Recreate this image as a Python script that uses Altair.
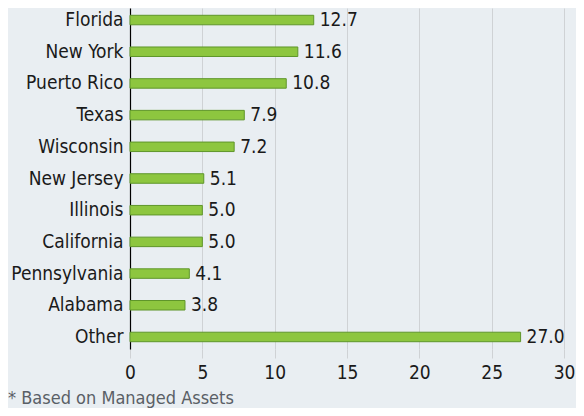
import altair as alt
import pandas as pd

states = ["Florida", "New York", "Puerto Rico", "Texas", "Wisconsin", "New Jersey",
          "Illinois", "California", "Pennsylvania", "Alabama", "Other"]
values = [12.7, 11.6, 10.8, 7.9, 7.2, 5.1, 5.0, 5.0, 4.1, 3.8, 27.0]
x_ticks = [0, 5, 10, 15, 20, 25, 30]
footnote = "* Based on Managed Assets"

df = pd.DataFrame({"state": states, "value": values})
df["label"] = [f"{v:.1f}" for v in values]

FONT = "Liberation Sans Narrow, Arial Narrow, DejaVu Sans Condensed, sans-serif"
FS = 19
BG = "#e9eef2"

x_enc = alt.X("value:Q",
              scale=alt.Scale(domain=[0, 30], nice=False, zero=True),
              axis=alt.Axis(values=x_ticks, title=None, domain=False,
                            grid=True, gridColor="#cfd2d5", gridWidth=1,
                            ticks=True, tickColor="#cfd2d5", tickSize=9,
                            labelFontSize=FS, labelColor="#1a1a1a", labelFont=FONT,
                            labelPadding=5, labelFlush=False))
y_enc = alt.Y("state:N", sort=states,
              scale=alt.Scale(paddingInner=0.7, paddingOuter=0.23),
              axis=alt.Axis(title=None, ticks=False, domain=True, domainColor="#000000",
                            domainWidth=1.2, labelFontSize=FS, labelColor="#1a1a1a",
                            labelFont=FONT, labelPadding=7, grid=False))

bars = alt.Chart(df).mark_bar(color="#8dc63f", stroke="#5f962a", strokeWidth=1).encode(
    x=x_enc, y=y_enc)

labels = alt.Chart(df).mark_text(align="left", baseline="middle", dx=6, dy=0,
                                 fontSize=FS, font=FONT, color="#1a1a1a").encode(
    x="value:Q", y=alt.Y("state:N", sort=states), text="label:N")

note = alt.Chart(pd.DataFrame({"t": [footnote]})).mark_text(
    align="left", baseline="middle", fontSize=18, font=FONT,
    color="#5a5f66").encode(x=alt.value(-122), y=alt.value(391), text="t:N")

chart = alt.layer(bars, labels, note).properties(
    width=434, height=341,
    autosize=alt.AutoSizeParams(type="none"),
    padding={"left": 122, "top": 0, "right": 12, "bottom": 59},
    background=BG,
).configure_view(stroke=None)

chart.save("out.html", embed_options={"renderer": "svg", "actions": False})
